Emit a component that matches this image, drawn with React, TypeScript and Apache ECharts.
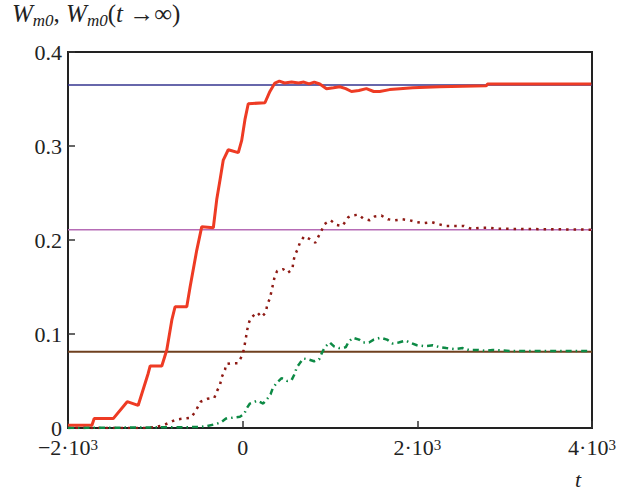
import React, { useEffect, useRef } from "react";
import * as echarts from "echarts";

// Time axis ticks and labels
const xTicks = [-2000, 0, 2000, 4000];
const xTickLabels = ["−2·10{s|3}", "0", "2·10{s|3}", "4·10{s|3}"];
const yTickLabels = ["0", "0.1", "0.2", "0.3", "0.4"];

// Asymptotic levels W_m0(t → ∞)
const limitLevels = [0.365, 0.211, 0.081];
const limitColors = ["#35358f", "#b66cb6", "#6f401f"];

// Solid red curve
const redT = [-2000, -1726, -1700, -1482, -1322, -1197, -1082, -1059, -926, -869, -811, -774, -640, -602, -526, -469, -336, -297, -259, -222, -165, -50, -11, 26, 64, 255, 312, 369, 420, 480, 560, 640, 700, 760, 820, 883, 960, 1040, 1112, 1180, 1246, 1330, 1417, 1500, 1569, 1683, 1800, 1946, 2255, 2789, 2803, 3992];
const redW = [0.003, 0.003, 0.010, 0.010, 0.028, 0.024, 0.058, 0.066, 0.066, 0.083, 0.115, 0.129, 0.129, 0.150, 0.189, 0.214, 0.213, 0.243, 0.264, 0.285, 0.296, 0.293, 0.306, 0.328, 0.345, 0.346, 0.358, 0.367, 0.369, 0.367, 0.368, 0.367, 0.368, 0.366, 0.368, 0.366, 0.361, 0.362, 0.363, 0.361, 0.358, 0.359, 0.361, 0.358, 0.358, 0.360, 0.361, 0.362, 0.363, 0.364, 0.366, 0.366];

// Dotted dark-red curve
const dotT = [-2000, -1105, -1002, -907, -831, -762, -679, -594, -545, -480, -405, -325, -290, -259, -240, -202, -191, -126, -57, -5, 11, 32, 46, 64, 91, 167, 215, 266, 281, 312, 331, 350, 369, 395, 464, 514, 571, 578, 598, 629, 655, 704, 769, 834, 864, 903, 937, 1006, 1074, 1143, 1207, 1246, 1329, 1378, 1455, 1512, 1589, 1664, 1741, 1829, 1912, 1995, 2083, 2167, 2235, 2331, 2434, 2533, 2617, 2720, 2818, 2921, 3992];
const dotW = [0, 0, 0.001, 0.003, 0.006, 0.009, 0.010, 0.011, 0.017, 0.028, 0.031, 0.032, 0.040, 0.046, 0.054, 0.062, 0.068, 0.069, 0.069, 0.077, 0.083, 0.093, 0.101, 0.110, 0.117, 0.123, 0.118, 0.123, 0.131, 0.138, 0.146, 0.154, 0.162, 0.167, 0.169, 0.165, 0.169, 0.176, 0.184, 0.190, 0.197, 0.204, 0.201, 0.197, 0.203, 0.210, 0.217, 0.221, 0.216, 0.215, 0.224, 0.226, 0.227, 0.223, 0.221, 0.225, 0.226, 0.222, 0.221, 0.222, 0.221, 0.219, 0.218, 0.219, 0.217, 0.215, 0.215, 0.215, 0.212, 0.213, 0.213, 0.212, 0.211];

// Dash-dot green curve
const greenT = [-2000, -488, -411, -317, -248, -191, -114, -31, 18, 46, 83, 167, 235, 281, 320, 343, 389, 446, 510, 560, 598, 617, 655, 693, 750, 818, 875, 903, 941, 998, 1043, 1104, 1181, 1215, 1264, 1333, 1378, 1447, 1501, 1577, 1653, 1714, 1786, 1866, 1938, 1995, 2091, 2178, 2255, 2331, 2426, 2521, 2590, 2693, 2781, 2864, 3055, 3992];
const greenW = [0, 0.001, 0.002, 0.004, 0.006, 0.010, 0.011, 0.012, 0.015, 0.021, 0.026, 0.029, 0.026, 0.031, 0.036, 0.042, 0.048, 0.053, 0.050, 0.051, 0.058, 0.064, 0.069, 0.074, 0.073, 0.071, 0.073, 0.079, 0.086, 0.091, 0.087, 0.085, 0.086, 0.092, 0.096, 0.094, 0.091, 0.091, 0.094, 0.096, 0.094, 0.090, 0.091, 0.093, 0.090, 0.088, 0.087, 0.088, 0.086, 0.085, 0.084, 0.085, 0.083, 0.083, 0.082, 0.083, 0.082, 0.082];

const FONT = "'Liberation Serif', 'DejaVu Serif', serif";

const pairs = (xs: number[], ys: number[]) => xs.map((x, i) => [x, ys[i]]);

export default function App() {
  const ref = useRef<HTMLDivElement>(null);
  useEffect(() => {
    if (!ref.current) return;
    const chart = echarts.init(ref.current, null, { renderer: "svg" });
    const limitSeries = limitLevels.map((v, i) => ({
      type: "line",
      data: [
        [xTicks[0], v],
        [xTicks[xTicks.length - 1], v],
      ],
      showSymbol: false,
      silent: true,
      lineStyle: { color: limitColors[i], width: i === 2 ? 2 : 1.5 },
      z: 1,
    }));
    chart.setOption({
      animation: false,
      backgroundColor: "#ffffff",
      grid: {
        left: 68,
        top: 52,
        right: 42,
        bottom: 65,
        show: true,
        borderColor: "#222",
        borderWidth: 2,
      },
      xAxis: {
        type: "value",
        min: -2000,
        max: 4000,
        interval: 2000,
        splitLine: { show: false },
        axisLine: { show: true, onZero: false, lineStyle: { color: "#222", width: 2 } },
        axisTick: { inside: true, length: 7, lineStyle: { color: "#333", width: 1.5 } },
        axisLabel: {
          showMinLabel: true,
          showMaxLabel: true,
          margin: 9,
          color: "#222",
          fontFamily: FONT,
          fontSize: 22,
          lineHeight: 20,
          formatter: (v: number) => {
            const i = xTicks.indexOf(v);
            return i >= 0 ? xTickLabels[i] : "";
          },
          rich: {
            s: { fontFamily: FONT, fontSize: 15, lineHeight: 12, verticalAlign: "top", color: "#222" },
          },
        },
      },
      yAxis: {
        type: "value",
        min: 0,
        max: 0.4,
        interval: 0.1,
        splitLine: { show: false },
        axisLine: { show: true, onZero: false, lineStyle: { color: "#222", width: 2 } },
        axisTick: { inside: true, length: 7, lineStyle: { color: "#333", width: 1.5 } },
        axisLabel: {
          showMinLabel: true,
          showMaxLabel: true,
          margin: 6,
          color: "#222",
          fontFamily: FONT,
          fontSize: 22,
          lineHeight: 14,
          formatter: (v: number) => yTickLabels[Math.round(v * 10)] ?? "",
        },
      },
      graphic: [
        {
          type: "text",
          left: 12,
          top: 1,
          style: {
            text: "{w|W}{s|m0}{n|, }{w|W}{s|m0}{n|(}{w|t}{n| →∞)}",
            fill: "#222",
            font: `24px ${FONT}`,
            rich: {
              w: { font: `italic 25px ${FONT}`, lineHeight: 30, verticalAlign: "middle", fill: "#222" },
              n: { font: `25px ${FONT}`, lineHeight: 30, verticalAlign: "middle", fill: "#222" },
              s: { font: `italic 17px ${FONT}`, lineHeight: 16, verticalAlign: "bottom", fill: "#222" },
            },
          },
        },
        {
          type: "text",
          left: 575,
          top: 468,
          style: {
            text: "t",
            fill: "#222",
            font: `italic 22px ${FONT}`,
          },
        },
      ],
      series: [
        ...limitSeries,
        {
          type: "line",
          data: pairs(redT, redW),
          showSymbol: false,
          lineStyle: { color: "#ee3b24", width: 3 },
          z: 3,
        },
        {
          type: "line",
          data: pairs(dotT, dotW),
          showSymbol: false,
          lineStyle: { color: "#8e1a14", width: 2.5, type: [2.5, 5] },
          z: 3,
        },
        {
          type: "line",
          data: pairs(greenT, greenW),
          showSymbol: false,
          lineStyle: { color: "#0d8a45", width: 2.5, type: [6, 4, 1.5, 4] },
          z: 3,
        },
      ],
    });
    return () => chart.dispose();
  }, []);
  return <div ref={ref} style={{ width: 634, height: 493, position: "absolute", left: 0, top: 0 }} />;
}
